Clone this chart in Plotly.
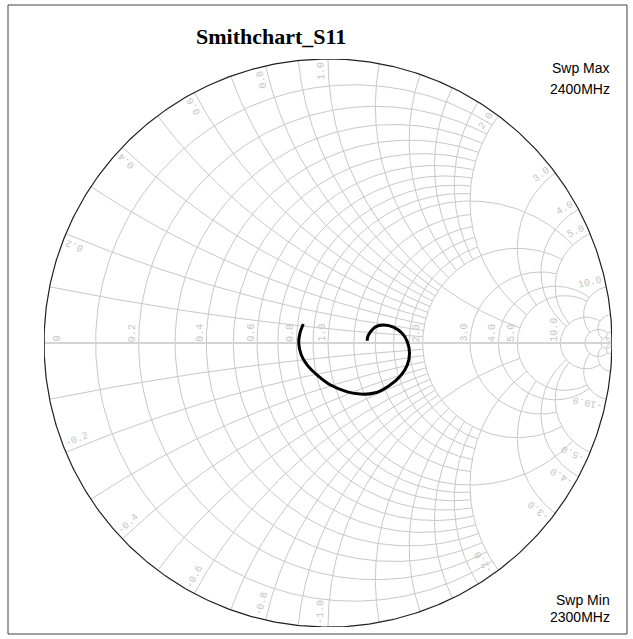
import numpy as np
import plotly.graph_objects as go

s11_re = [-0.087, -0.099, -0.103, -0.094, -0.073, -0.038, 0.009, 0.068, 0.114, 0.167, 0.214,
          0.255, 0.279, 0.287, 0.279, 0.261, 0.232, 0.197, 0.167, 0.150, 0.140, 0.138]
s11_im = [0.067, 0.034, -0.001, -0.042, -0.078, -0.113, -0.148, -0.172, -0.180, -0.175, -0.151,
          -0.116, -0.078, -0.036, 0.005, 0.034, 0.055, 0.063, 0.057, 0.040, 0.022, 0.008]

# grid circles (r) / arcs (x) and how far each one runs along the other family
grid_vals = [0.1, 0.2, 0.3, 0.4, 0.5, 0.6, 0.7, 0.8, 0.9, 1.0, 1.2, 1.4, 1.6, 1.8, 2.0,
             3.0, 4.0, 5.0, 10.0, 20.0, 50.0]
grid_lims = [2, 2, 2, 2, 2, 2, 2, 2, 2, 5, 2, 2, 2, 2, 5,
             5, 10, 10, 20, 50, np.inf]
r_labels = [0, 0.2, 0.4, 0.6, 0.8, 1.0, 2.0, 3.0, 4.0, 5.0, 10.0]
x_labels = [0.2, 0.4, 0.6, 0.8, 1.0, 2.0, 3.0, 4.0, 5.0, 10.0]

swp_max = "2400MHz"
swp_min = "2300MHz"

GRID = "#c8c8c8"
LABEL = "#c4c4c4"
R_PX = 284.0
L, T, PW = 44, 59, 568  # plot box in pixels


def gamma(z):
    return (z - 1) / (z + 1)


def tmax(lim):
    return np.arctan(lim) if np.isfinite(lim) else np.pi / 2 - 1e-3


def px(xp, yp):
    # page pixels -> paper coords
    return (xp - L) / PW, (T + PW - yp) / PW


gx, gy = [], []
for v, lim in zip(grid_vals, grid_lims):
    t = np.linspace(-tmax(lim), tmax(lim), 300)
    g = gamma(v + 1j * np.tan(t))
    gx += list(g.real) + [None]
    gy += list(g.imag) + [None]
    t = np.linspace(0, tmax(lim), 300)
    for s in (1, -1):
        g = gamma(np.tan(t) + 1j * s * v)
        gx += list(g.real) + [None]
        gy += list(g.imag) + [None]

t = np.linspace(-np.pi / 2 + 1e-4, np.pi / 2 - 1e-4, 600)
edge = gamma(1j * np.tan(t))

fig = go.Figure()
fig.add_trace(go.Scatter(x=gx, y=gy, mode="lines", line=dict(color=GRID, width=1), hoverinfo="skip"))
fig.add_trace(go.Scatter(x=[-1, 1], y=[0, 0], mode="lines", line=dict(color="#d4d4d4", width=2), hoverinfo="skip"))
fig.add_trace(go.Scatter(x=edge.real, y=edge.imag, mode="lines", line=dict(color="#202020", width=1.2), hoverinfo="skip"))
fig.add_trace(go.Scatter(x=s11_re, y=s11_im, mode="lines", name="S11",
                         line=dict(color="black", width=3, shape="spline")))

lab_font = dict(family="Liberation Mono", size=10, color=LABEL)
ann = []
for r in r_labels:
    gr = float(np.real(gamma(r)))
    ann.append(dict(x=gr, y=0, xref="x", yref="y", text=str(r) if r == 0 else f"{r:.1f}",
                    showarrow=False, textangle=-90, font=lab_font,
                    xanchor="left" if r == 0 else "right", yanchor="bottom",
                    xshift=6 if r == 0 else 0, borderpad=0))
for v in x_labels:
    for s in (1, -1):
        g = gamma(1j * s * v)
        th = np.angle(g)
        txt = f"{s * v:.1f}"
        rad = 1 - (3 + len(txt) * 3.0) / R_PX
        th += np.sign(th) * 7 / R_PX / rad
        ann.append(dict(x=rad * np.cos(th), y=rad * np.sin(th), xref="x", yref="y", text=txt,
                        showarrow=False, textangle=-(np.degrees(th) % 180), font=lab_font,
                        xanchor="center", yanchor="middle", borderpad=0))

tx, ty = px(271, 37)
ann.append(dict(x=tx, y=ty, xref="paper", yref="paper", text="<b>Smithchart_S11</b>", showarrow=False,
                xanchor="center", yanchor="middle",
                font=dict(family="Liberation Serif", size=22, color="black")))
side = dict(family="Liberation Sans", size=14, color="black")
for txt, ypx in [("Swp Max", 68), (swp_max, 89), ("Swp Min", 600), (swp_min, 617)]:
    sx, sy = px(612, ypx)
    ann.append(dict(x=sx, y=sy, xref="paper", yref="paper", text=txt,
                    showarrow=False, xanchor="right", yanchor="middle", font=side))

bx0, by0 = px(8, 634)
bx1, by1 = px(627, 5)
fig.update_layout(
    width=633, height=639,
    margin=dict(l=L, r=633 - L - PW, t=T, b=639 - T - PW),
    plot_bgcolor="white", paper_bgcolor="white",
    showlegend=False,
    annotations=ann,
    shapes=[dict(type="rect", xref="paper", yref="paper", x0=bx0, x1=bx1, y0=by0, y1=by1,
                 line=dict(color="#404040", width=1))],
)
fig.update_xaxes(range=[-1, 1], visible=False, fixedrange=True)
fig.update_yaxes(range=[-1, 1], visible=False, fixedrange=True)

fig.write_html("out.html", config={"displayModeBar": False},
               post_script="document.body.style.margin='0';")
